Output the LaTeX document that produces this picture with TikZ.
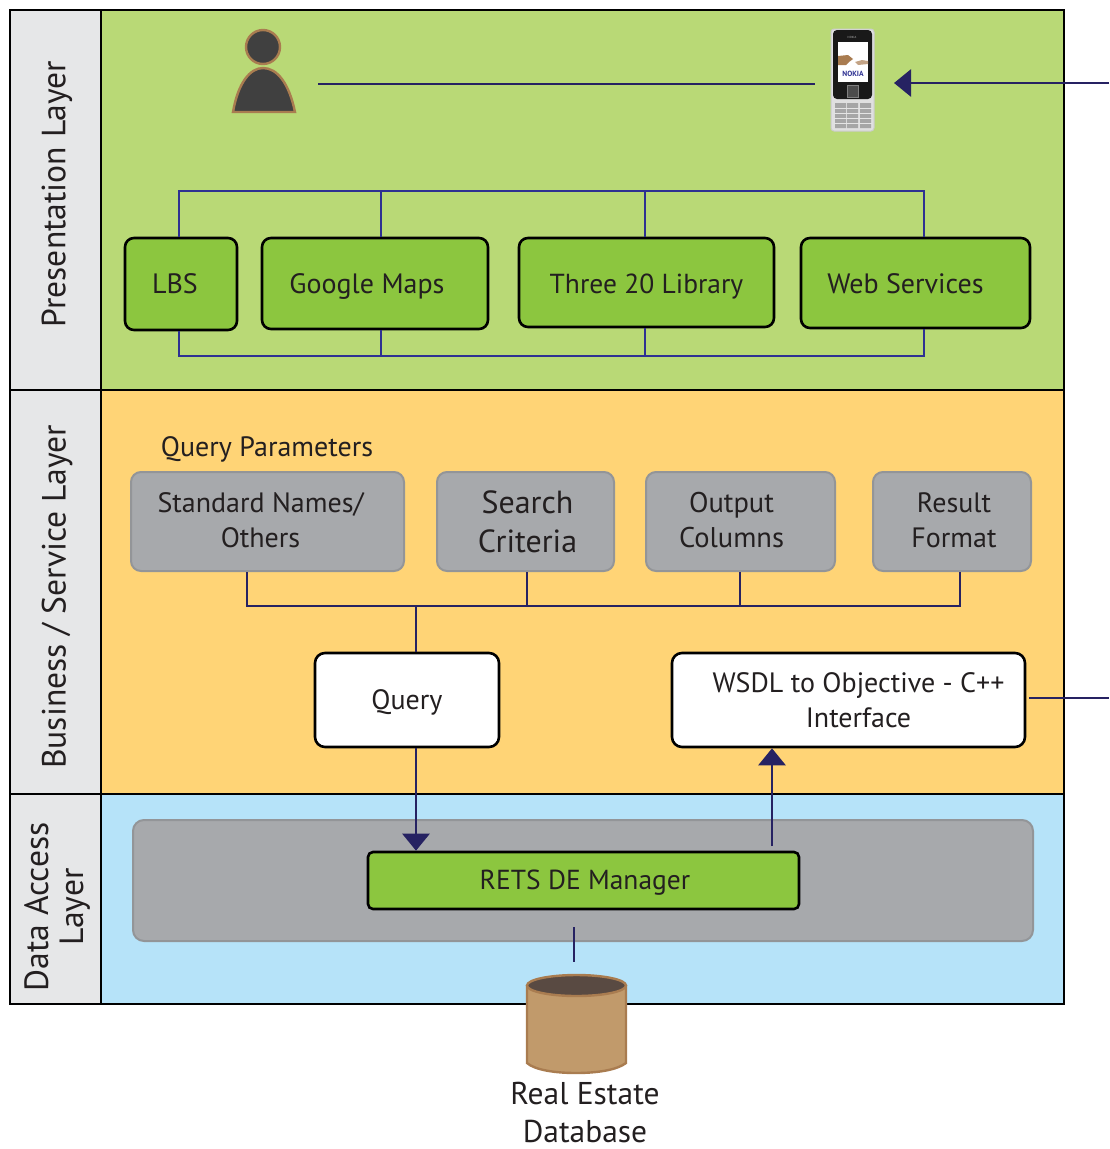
\documentclass[tikz,border=0pt]{standalone}
\usepackage{fontspec}
\setmainfont{PT Sans}
\usetikzlibrary{arrows.meta}
\definecolor{presgreen}{HTML}{B9D976}
\definecolor{busorange}{HTML}{FFD476}
\definecolor{datablue}{HTML}{B6E3F9}
\definecolor{labelgray}{HTML}{E6E7E8}
\definecolor{boxgray}{HTML}{A7A9AC}
\definecolor{edgegray}{HTML}{939598}
\definecolor{boxgreen}{HTML}{8CC63F}
\definecolor{linknavy}{HTML}{262262}
\definecolor{busblue}{HTML}{2E3192}
\definecolor{tanfill}{HTML}{C19A6B}
\definecolor{tanedge}{HTML}{A97C50}
\definecolor{dbtop}{HTML}{594A42}
\definecolor{textdark}{HTML}{231F20}
\newcommand{\fsz}[2]{\fontsize{#1}{#2}\selectfont}
\newcommand{\liftline}{\rule[-3pt]{0pt}{3pt}}
\tikzset{
  layer/.style={draw=black,line width=2.6pt,anchor=north west,inner sep=0pt,outer sep=0pt},
  layertext/.style={rotate=90,text=textdark,align=center,font=\fsz{33.6}{35},inner sep=0pt},
  techbox/.style={draw=black,fill=boxgreen,line width=2.6pt,rounded corners=9pt,text=textdark,font=\fsz{28}{35},inner sep=0pt,text depth=0pt},
  parambox/.style={draw=edgegray,fill=boxgray,line width=2pt,rounded corners=10pt,text=textdark,font=\fsz{28}{35},align=center,inner sep=0pt},
  whitebox/.style={draw=black,fill=white,line width=2.6pt,rounded corners=10pt,text=textdark,font=\fsz{28}{35},align=center,inner sep=0pt},
  bus/.style={draw=busblue,line width=2.8pt},
  link/.style={draw=linknavy,line width=2.8pt},
  bigtip/.style={-{Triangle[width=27pt,length=17pt]}}
}
\begin{document}
\begin{tikzpicture}[x=1pt,y=-1pt]
    \useasboundingbox (0,0) rectangle (1109,1149);

    % layer backgrounds
    \node[layer,fill=presgreen,minimum width=963pt,minimum height=380pt] (pres) at (101,10) {};
    \node[layer,fill=busorange,minimum width=963pt,minimum height=404pt] (busi) at (101,390) {};
    \node[layer,fill=datablue,minimum width=963pt,minimum height=210pt] (data) at (101,794) {};

    % layer labels
    \node[layer,fill=labelgray,minimum width=91pt,minimum height=380pt] (presside) at (10,10) {};
    \node[layer,fill=labelgray,minimum width=91pt,minimum height=404pt] (busiside) at (10,390) {};
    \node[layer,fill=labelgray,minimum width=91pt,minimum height=210pt] (dataside) at (10,794) {};
    \node[layertext] (preslabel) at (57,194) {Presentation Layer};
    \node[layertext] (busilabel) at (57,597) {Business / Service Layer};
    \node[layertext] (datalabel) at (57,907) {Data Access\\Layer};

    % user
    \draw[draw=tanedge,fill=black!75,line width=2.4pt] (263,47) circle (17);
    \draw[draw=tanedge,fill=black!75,line width=2.4pt] (233,112) .. controls (238,83) and (250,68) .. (263,68) .. controls (277,68) and (289,83) .. (295,112) -- cycle;
    \coordinate (userend) at (318,84);

    % phone
    \draw[draw=black!20,fill=black!12,line width=1pt,rounded corners=3pt] (831,29) rectangle (874,131);
    \draw[fill=black!90,draw=none,rounded corners=4pt] (833,30) rectangle (872,99);
    \fill[white] (838,42) rectangle (868,82);
    \fill[tanedge] (838,56) -- (848,55) -- (853,59) -- (849,62) -- (846,65) -- (838,65) -- cycle;
    \fill[tanedge!70] (855,62) -- (862,60) -- (868,61) -- (868,64) -- (858,65) -- cycle;
    \node[text=busblue,font=\fsz{7.5}{8}\bfseries,inner sep=0pt] (nokia) at (853,73.5) {NOKIA};
    \node[text=white!70!black,font=\fsz{3}{3},inner sep=0pt] (nokiatop) at (852,37) {NOKIA};
    \draw[black!50,fill=black!70,line width=1pt] (847,85) rectangle (858,97);
    \fill[black!35] (835,103) rectangle (846,128) (847,103) rectangle (858,128) (860,103) rectangle (871,128);
    \foreach \keyy in {108,113,118,123} \draw[black!10,line width=1pt] (834,\keyy) -- (872,\keyy);
    \coordinate (phonein) at (815,84);
    \coordinate (phonetip) at (894,83);
    \coordinate (feedin) at (1109,83);
    \coordinate (feedout) at (1109,698);

    % libraries
    \node[techbox,text height=18pt,minimum width=112pt,minimum height=92pt] (lbs) at (181,284) {\hspace*{-12pt}LBS};
    \node[techbox,text height=19pt,minimum width=226pt,minimum height=91pt] (maps) at (375,283.5) {\hspace*{-16pt}Google Maps};
    \node[techbox,text height=21pt,font=\fsz{27.5}{35},minimum width=255pt,minimum height=89pt] (three) at (646.5,282.5) {Three 20 Library};
    \node[techbox,text height=20pt,minimum width=229pt,minimum height=90pt] (web) at (915.5,283) {\hspace*{-20pt}Web Services};
    \coordinate (topl) at (179,191);
    \coordinate (topm) at (381,191);
    \coordinate (topn) at (645,191);
    \coordinate (topr) at (924,191);
    \coordinate (botl) at (179,356);
    \coordinate (botm) at (381,356);
    \coordinate (botn) at (645,356);
    \coordinate (botr) at (924,356);
    \draw[bus] (lbs.north -| topl) -- (topl) -- (topr) -- (web.north -| topr);
    \draw[bus] (maps.north -| topm) -- (topm);
    \draw[bus] (three.north -| topn) -- (topn);
    \draw[bus] (lbs.south -| botl) -- (botl) -- (botr) -- (web.south -| botr);
    \draw[bus] (maps.south -| botm) -- (botm);
    \draw[bus] (three.south -| botn) -- (botn);

    % query parameters
    \node[text=textdark,font=\fsz{28}{35},inner sep=0pt] (paramtitle) at (267,449) {Query Parameters};
    \node[parambox,minimum width=273pt,minimum height=99pt] (names) at (267.5,521.5) {\hspace*{-14pt}Standard Names/\\\hspace*{-14pt}Others\liftline};
    \node[parambox,minimum width=177pt,minimum height=99pt,font=\fsz{32}{39}] (search) at (525.5,521.5) {\hspace*{4pt}Search\\\hspace*{4pt}Criteria};
    \node[parambox,font=\fsz{28.5}{35},minimum width=189pt,minimum height=99pt] (output) at (740.5,521.5) {\hspace*{-18pt}Output\\\hspace*{-18pt}Columns\liftline};
    \node[parambox,minimum width=158pt,minimum height=99pt] (format) at (952,521.5) {\hspace*{4pt}Result\\\hspace*{4pt}Format\liftline};
    \coordinate (parl) at (247,606);
    \coordinate (pars) at (527,606);
    \coordinate (paro) at (740,606);
    \coordinate (parr) at (960,606);
    \coordinate (parq) at (416,606);
    \draw[link] (names.south -| parl) -- (parl) -- (parr) -- (format.south -| parr);
    \draw[link] (search.south -| pars) -- (pars);
    \draw[link] (output.south -| paro) -- (paro);

    % service boxes
    \node[whitebox,text height=18pt,text depth=0pt,minimum width=184pt,minimum height=94pt] (query) at (407,700) {Query};
    \node[whitebox,minimum width=353pt,minimum height=94pt] (wsdl) at (848.5,700) {\hspace*{20pt}WSDL to Objective - C++\\\hspace*{20pt}Interface};
    \draw[link] (parq) -- (query.north -| parq);

    % data access
    \node[draw=edgegray,fill=boxgray,line width=2pt,rounded corners=11pt,minimum width=900pt,minimum height=121pt,inner sep=0pt] (store) at (583,880.5) {};
    \node[techbox,text height=17pt,font=\fsz{27.5}{35},rounded corners=5pt,minimum width=431pt,minimum height=57pt] (rets) at (583.5,880.5) {\hspace*{3pt}RETS DE Manager};
    \draw[link,bigtip] (query.south -| parq) -- (parq |- rets.north);
    \coordinate (retsout) at (772,846);
    \draw[link,bigtip] (retsout) -- (retsout |- wsdl.south);

    % database
    \draw[draw=tanedge,fill=tanfill,line width=2.4pt] (527,986) -- (527,1063) .. controls (535,1070) and (555,1073) .. (576,1073) .. controls (597,1073) and (617,1070) .. (626,1063) -- (626,986) -- cycle;
    \draw[draw=tanedge,fill=dbtop,line width=2.4pt] (576.5,985.5) ellipse (49.5 and 10.5);
    \coordinate (storeout) at (574,927);
    \coordinate (dbin) at (574,962);
    \draw[link] (storeout) -- (dbin);
    \node[text=textdark,font=\fsz{31.5}{38},align=center,inner sep=0pt] (dblabel) at (585,1113) {Real Estate\\Database};

    % outer connectors
    \draw[link] (userend) -- (phonein);
    \draw[link,bigtip] (feedin) -- (phonetip);
    \draw[link] (wsdl.east) ++(3,-2) -- (feedout);
\end{tikzpicture}
\end{document}
